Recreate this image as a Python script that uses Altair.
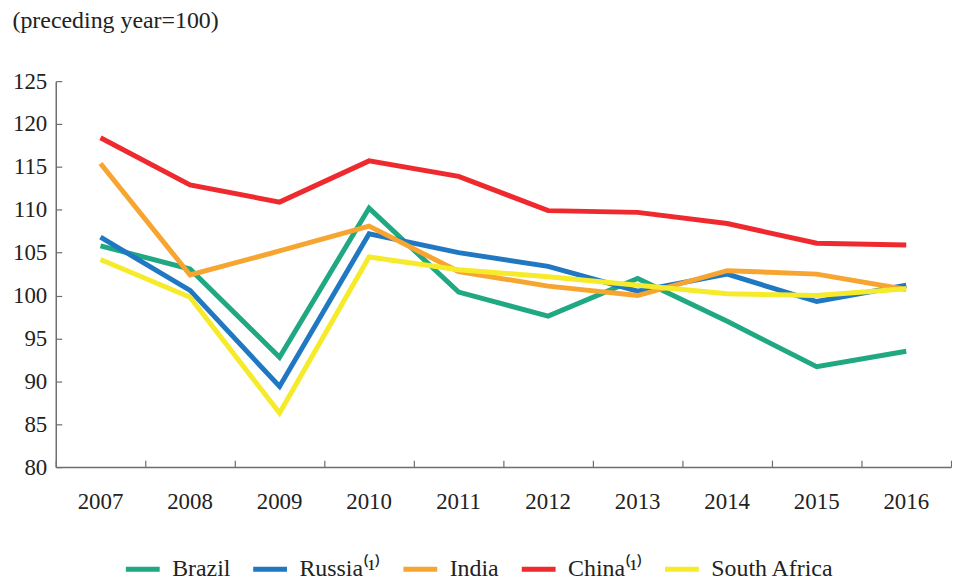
import altair as alt
import pandas as pd

years = ["2007", "2008", "2009", "2010", "2011", "2012", "2013", "2014", "2015", "2016"]
countries = ["Brazil", "Russia⁽¹⁾", "India", "China⁽¹⁾", "South Africa"]
colors = ["#1fa882", "#1f78c1", "#f7a531", "#ee2a2f", "#f6eb2a"]

brazil = [105.8, 103.1, 92.8, 110.2, 100.4, 97.6, 102.0, 97.0, 91.7, 93.5]
russia = [106.8, 100.6, 89.4, 107.2, 105.0, 103.4, 100.5, 102.5, 99.3, 101.2]
india = [115.4, 102.4, 105.2, 108.1, 102.8, 101.1, 100.0, 102.9, 102.5, 100.7]
china = [118.4, 112.9, 110.9, 115.7, 113.9, 109.9, 109.7, 108.4, 106.1, 105.9]
south_africa = [104.2, 99.8, 86.3, 104.5, 103.0, 102.2, 101.2, 100.2, 100.0, 100.8]

series = [brazil, russia, india, china, south_africa]
rows = []
for i, (c, vals) in enumerate(zip(countries, series)):
    for y, v in zip(years, vals):
        rows.append({"year": y, "value": v, "country": c, "order": i})
df = pd.DataFrame(rows)

FONT = "Liberation Serif, Times New Roman, serif"
AXC = "#6e6e6e"
yticks = list(range(80, 126, 5))

xscale = alt.Scale(type="band", paddingInner=0, paddingOuter=0, domain=years)
yscale = alt.Scale(domain=[80, 125], zero=False, nice=False)
cscale = alt.Scale(domain=countries, range=colors)

lines = alt.Chart(df).mark_line(strokeWidth=5).encode(
    x=alt.X("year:O", scale=xscale, title=None,
            axis=alt.Axis(labelAngle=0, labelFont=FONT, labelFontSize=23, labelColor="#222",
                          labelPadding=24, ticks=False, domainColor=AXC, domainWidth=1.5,
                          grid=False)),
    y=alt.Y("value:Q", scale=yscale, title=None,
            axis=alt.Axis(values=yticks, labelFont=FONT, labelFontSize=23, labelColor="#222",
                          labelPadding=9, ticks=False, domainColor=AXC, domainWidth=1.5,
                          grid=False)),
    color=alt.Color("country:N", scale=cscale, sort=countries,
                    legend=alt.Legend(title=None, orient="none", direction="horizontal",
                                      legendX=68, legendY=471,
                                      symbolType="stroke", symbolSize=1156, symbolStrokeWidth=5,
                                      labelFont=FONT, labelFontSize=24, labelColor="#222",
                                      labelOffset=10, columnPadding=12)),
    order=alt.Order("order:Q"),
)

ticks = alt.Chart(df).mark_line(opacity=0).encode(
    x=alt.X("year:O", scale=xscale, title=None,
            axis=alt.Axis(orient="bottom", offset=-7, tickSize=7, tickColor=AXC, tickWidth=1.2,
                          labels=False, domain=False, tickBand="extent", grid=False)),
    y=alt.Y("value:Q", scale=yscale, title=None,
            axis=alt.Axis(orient="left", offset=-6, tickSize=6, tickColor=AXC, tickWidth=1.2,
                          values=yticks, labels=False, domain=False, grid=False)),
    detail="country:N",
)

chart = alt.layer(lines, ticks).resolve_axis(x="independent", y="independent").properties(
    width=900, height=388,
    padding={"left": 4, "top": 0, "right": 0, "bottom": 0},
    title=alt.TitleParams("(preceding year=100)", anchor="start", frame="bounds",
                          font=FONT, fontSize=24, fontWeight="normal", color="#222",
                          offset=37),
).configure_view(stroke=None)

chart.save("out.html", embed_options={"renderer": "svg", "actions": False})
